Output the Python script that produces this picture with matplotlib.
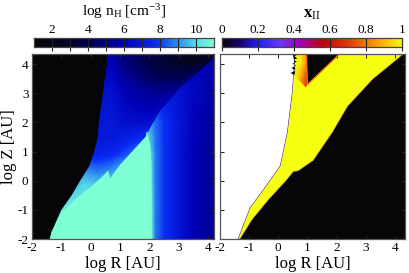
import numpy as np
import matplotlib
matplotlib.use("Agg")
import matplotlib.pyplot as plt
from matplotlib.colors import LinearSegmentedColormap
from matplotlib.patches import Polygon

plt.rcParams['font.family'] = ['Liberation Serif', 'DejaVu Serif']
plt.rcParams['mathtext.fontset'] = 'custom'
plt.rcParams['mathtext.rm'] = 'Liberation Serif'
plt.rcParams['mathtext.it'] = 'Liberation Serif:italic'
plt.rcParams['axes.unicode_minus'] = False

W, H = 409, 273
XLIM = (-2.0, 4.2)
YLIM = (-2.0, 4.35)

x_ticks = [-2, -1, 0, 1, 2, 3, 4]
y_ticks = [-2, -1, 0, 1, 2, 3, 4]
cb1_minor = [3, 5, 7, 9]
cb1_ticks = [2, 4, 6, 8, 10]
cb2_ticks = [0, 0.2, 0.4, 0.6, 0.8, 1]
cb2_labels = ['0', '0.2', '0.4', '0.6', '0.8', '1']

# Left panel: low-density gas above the diagonal
wind_R = [-1.4, -1.0, -0.5, 0.0, 0.5, 1.0, 1.5, 2.0, 2.5, 3.0, 3.5, 4.2]
wind_Z = [-2.0, -1.0, -0.5, 0.0, 0.5, 1.0, 1.5, 2.0, 2.5, 3.0, 3.5, 4.35]
wind_n = [
    [10.8, 10.8, 10.8, 10.8, 10.8, 10.8, 10.8, 10.8, 8.0, 7.0, 6.0, 5.0],
    [10.8, 10.6, 10.6, 10.6, 10.6, 10.6, 10.6, 10.6, 8.0, 7.0, 6.0, 5.0],
    [10.0, 10.2, 10.4, 10.4, 10.6, 10.6, 10.6, 10.6, 8.0, 7.0, 6.0, 5.0],
    [ 9.5,  9.5, 10.0,  9.9, 10.2, 10.4, 10.6, 10.6, 8.0, 7.0, 6.0, 5.0],
    [ 9.0,  9.0,  9.0,  8.6,  9.0,  9.8, 10.4, 10.6, 8.0, 7.0, 6.0, 5.0],
    [ 7.4,  7.4,  7.4,  7.4,  7.6,  8.2,  9.0, 10.0, 8.0, 7.0, 6.0, 5.0],
    [ 7.0,  7.0,  7.0,  7.0,  7.0,  7.2,  7.7,  8.0, 8.0, 7.0, 6.0, 5.0],
    [ 7.0,  7.0,  7.0,  7.0,  6.9,  6.6,  6.6,  6.8, 7.2, 7.0, 6.0, 5.0],
    [ 6.9,  6.9,  6.9,  6.9,  6.8,  6.3,  6.0,  5.9, 6.2, 6.6, 6.0, 5.0],
    [ 6.8,  6.8,  6.8,  6.8,  6.6,  6.0,  5.6,  5.3, 5.4, 5.6, 6.0, 5.0],
    [ 6.4,  6.4,  6.4,  6.4,  6.3,  5.4,  4.8,  4.3, 4.0, 4.0, 5.0, 5.0],
    [ 6.0,  6.0,  6.0,  6.0,  5.9,  4.8,  4.2,  3.6, 3.1, 2.7, 2.3, 3.0],
]

# Left panel: dense gas below the diagonal
outer_R = [1.9, 2.08, 2.2, 2.5, 3.0, 3.5, 4.2]
outer_Z = [-2.0, 0.0, 1.0, 2.0, 3.0, 4.35]
outer_n = [
    [10.8, 10.6, 8.8, 7.8, 6.8, 6.0, 5.3],
    [10.8, 10.0, 8.8, 7.8, 6.8, 6.0, 5.3],
    [10.8, 9.8, 8.8, 7.8, 6.8, 6.0, 5.3],
    [9.5, 9.0, 8.6, 7.8, 6.9, 6.1, 5.4],
    [7.0, 7.0, 7.0, 7.0, 6.8, 6.3, 5.6],
    [6.0, 6.0, 6.0, 6.0, 6.0, 6.0, 5.9],
]

# Edge of the gas region (R at each Z)
gas_edge_R = [-1.39, -1.33, -1.0, -0.65, -0.36, -0.05, 0.12, 0.24, 0.28, 0.42, 0.46, 0.53, 0.5, 0.58, 0.54, 0.6]
gas_edge_Z = [-2.0, -1.75, -1.0, -0.5, 0.0, 0.5, 1.0, 1.5, 2.0, 3.0, 3.4, 3.7, 3.85, 4.0, 4.15, 4.35]

# Diagonal shock front
diag_R = [1.96, 2.37, 3.05, 4.18, 4.3]
diag_Z = [1.66, 2.38, 3.2, 4.17, 4.35]

# Saturated dense disc
disc_R = [-1.39, -1.33, -0.98, -0.55, -0.1, 0.3, 0.6, 0.66, 1.0, 1.5, 1.95, 2.03, 2.07, 2.08]
disc_Z = [-2.0, -1.75, -1.1, -0.65, -0.3, 0.05, 0.35, 0.08, 0.55, 1.1, 1.6, 1.2, 0.5, -2.0]

# Right panel: ionised fraction region
white_edge_R = [-1.38, -0.97, -0.34, 0.07, 0.31, 0.48, 0.52, 0.57]
white_edge_Z = [-2.0, -0.93, -0.07, 0.52, 1.66, 3.03, 3.6, 4.35]
neutral_edge_R = [-1.31, -0.9, -0.34, 0.25, 0.52, 0.69, 1.2, 1.86, 2.38, 3.24, 4.3]
neutral_edge_Z = [-2.0, -1.34, -0.66, -0.02, 0.31, 0.34, 0.69, 1.66, 2.55, 3.48, 4.35]
wedge_R = [0.97, 1.0, 2.1]
wedge_Z = [4.35, 3.3, 4.35]
strip_R = [0.7, 0.97, 1.0, 0.95, 0.55]
strip_Z = [4.35, 4.35, 3.3, 3.2, 3.6]
strip_table = [[0.99, 0.97, 0.85], [0.96, 0.85, 0.72]]
teeth_R = [0.62, 0.42, 0.6, 0.45, 0.62, 0.48, 0.64, 0.52, 0.66, 0.55, 0.7, 0.5]
teeth_Z = [3.6, 3.7, 3.78, 3.87, 3.95, 4.02, 4.08, 4.15, 4.2, 4.27, 4.35, 4.35]

cmap_n = LinearSegmentedColormap.from_list('nH', [
    (0.0, '#060608'), (0.15, '#05051e'), (0.3, '#00004f'), (0.5, '#0000b8'),
    (0.68, '#0a2df5'), (0.8, '#2f8cf0'), (0.9, '#55d8ea'), (1.0, '#7fffd4')])
cmap_x = LinearSegmentedColormap.from_list('xII', [
    (0.0, '#060608'), (0.1, '#1a0070'), (0.2, '#2020ff'), (0.32, '#6a3cf0'), (0.42, '#a000c8'),
    (0.55, '#c00010'), (0.7, '#e03a00'), (0.85, '#ff9800'), (1.0, '#f5ff10')])
DARK = '#060608'
YELLOW = '#f5ff10'
EDGE = '#555555'

fig = plt.figure(figsize=(W/100, H/100), dpi=100)
def axes_px(x0, y0, x1, y1):
    return fig.add_axes([x0/W, 1-y1/H, (x1-x0)/W, (y1-y0)/H])

ax1 = axes_px(32, 54, 214, 239)
ax2 = axes_px(220, 54, 405, 239)
cb1 = axes_px(34, 37.5, 214, 47)
cb2 = axes_px(222, 37.5, 402, 47)

# Left panel
ax1.set_facecolor(DARK)
upper_clip = Polygon(list(zip(gas_edge_R, gas_edge_Z)) + list(zip(diag_R[::-1], diag_Z[::-1])) + [(1.96, -2.0)],
                     closed=True, fc='none', ec='none')
lower_clip = Polygon(list(zip(diag_R, diag_Z)) + [(4.3, -2.0), (1.9, -2.0), (1.9, 1.66)],
                     closed=True, fc='none', ec='none')
ax1.add_patch(upper_clip)
ax1.add_patch(lower_clip)
im1 = ax1.imshow(wind_n, origin='lower', extent=(wind_R[0], wind_R[-1], wind_Z[0], wind_Z[-1]),
                 cmap=cmap_n, vmin=1, vmax=11, aspect='auto', interpolation='bilinear')
im1.set_clip_path(upper_clip)
xx, yy = np.meshgrid(outer_R, outer_Z)
im2 = ax1.pcolormesh(xx, yy, np.array(outer_n), cmap=cmap_n, vmin=1, vmax=11, shading='gouraud')
im2.set_clip_path(lower_clip)
ax1.add_patch(Polygon(list(zip(disc_R, disc_Z)), closed=True, fc='#7fffd4', ec='none', zorder=3))
ax1.set_xlim(XLIM); ax1.set_ylim(YLIM)

# Right panel
ax2.set_facecolor(DARK)
ax2.fill(list(white_edge_R) + [XLIM[0], XLIM[0]], list(white_edge_Z) + [YLIM[1], YLIM[0]], color='white', lw=0)
ax2.fill(list(white_edge_R) + neutral_edge_R[::-1], list(white_edge_Z) + neutral_edge_Z[::-1],
         fc=YELLOW, ec='#7a3cc0', lw=0.4)
ax2.fill(teeth_R, teeth_Z, fc=DARK, lw=0, zorder=2)
strip = Polygon(list(zip(strip_R, strip_Z)), closed=True, fc='none', ec='none')
ax2.add_patch(strip)
im3 = ax2.imshow(strip_table[::-1], origin='lower', extent=(0.55, 1.0, 3.2, 4.35), cmap=cmap_x, vmin=0, vmax=1,
                 aspect='auto', interpolation='bilinear', zorder=2)
im3.set_clip_path(strip)
ax2.fill(wedge_R, wedge_Z, fc=DARK, ec='#f07000', lw=0.9, zorder=3)
ax2.set_xlim(-2.0, 4.35); ax2.set_ylim(YLIM)

for ax in (ax1, ax2):
    ax.set_xticks(x_ticks)
    ax.set_yticks(y_ticks)
    ax.tick_params(direction='in', length=3, width=0.7, labelsize=9.5, pad=2.5, color='#222222',
                   top=True, right=True)
    ax.set_xlabel('log R [AU]', fontsize=12, labelpad=1)
    for s in ax.spines.values():
        s.set_color(EDGE); s.set_linewidth(0.9)
        s.set_zorder(5)
ax1.set_ylabel('log Z [AU]', fontsize=12)
ax1.yaxis.set_label_coords(-0.08, 0.5)
ax2.tick_params(labelleft=False)

# Colour bars
val1 = np.linspace(1, 11, 256).reshape(1, -1)
cb1.imshow(val1, extent=(1, 11, 0, 1), cmap=cmap_n, vmin=1, vmax=11, aspect='auto')
val2 = np.linspace(0, 1, 256).reshape(1, -1)
cb2.imshow(val2, extent=(0, 1, 0, 1), cmap=cmap_x, vmin=0, vmax=1, aspect='auto')
cb1.set_xticks(cb1_ticks); cb1.set_xticklabels([str(t) for t in cb1_ticks])
cb1.set_xticks(cb1_minor, minor=True)
cb2.set_xticks(cb2_ticks); cb2.set_xticklabels(cb2_labels)
for cb in (cb1, cb2):
    cb.set_yticks([])
    cb.xaxis.tick_top()
    cb.tick_params(axis='x', which='both', direction='in', length=9.5, width=0.8, labelsize=9.5, pad=1,
                   color='#222222')
    for s in cb.spines.values():
        s.set_color('#444444'); s.set_linewidth(0.9)
cb1.set_title(r'log n$_{\mathrm{H}}$ [cm$^{\mathrm{-3}}$]', fontsize=11, pad=6)
cb2.set_title(r'x$_{\mathrm{II}}$', fontsize=12, pad=5, fontweight='bold')

fig.savefig('out.png', dpi=100)
